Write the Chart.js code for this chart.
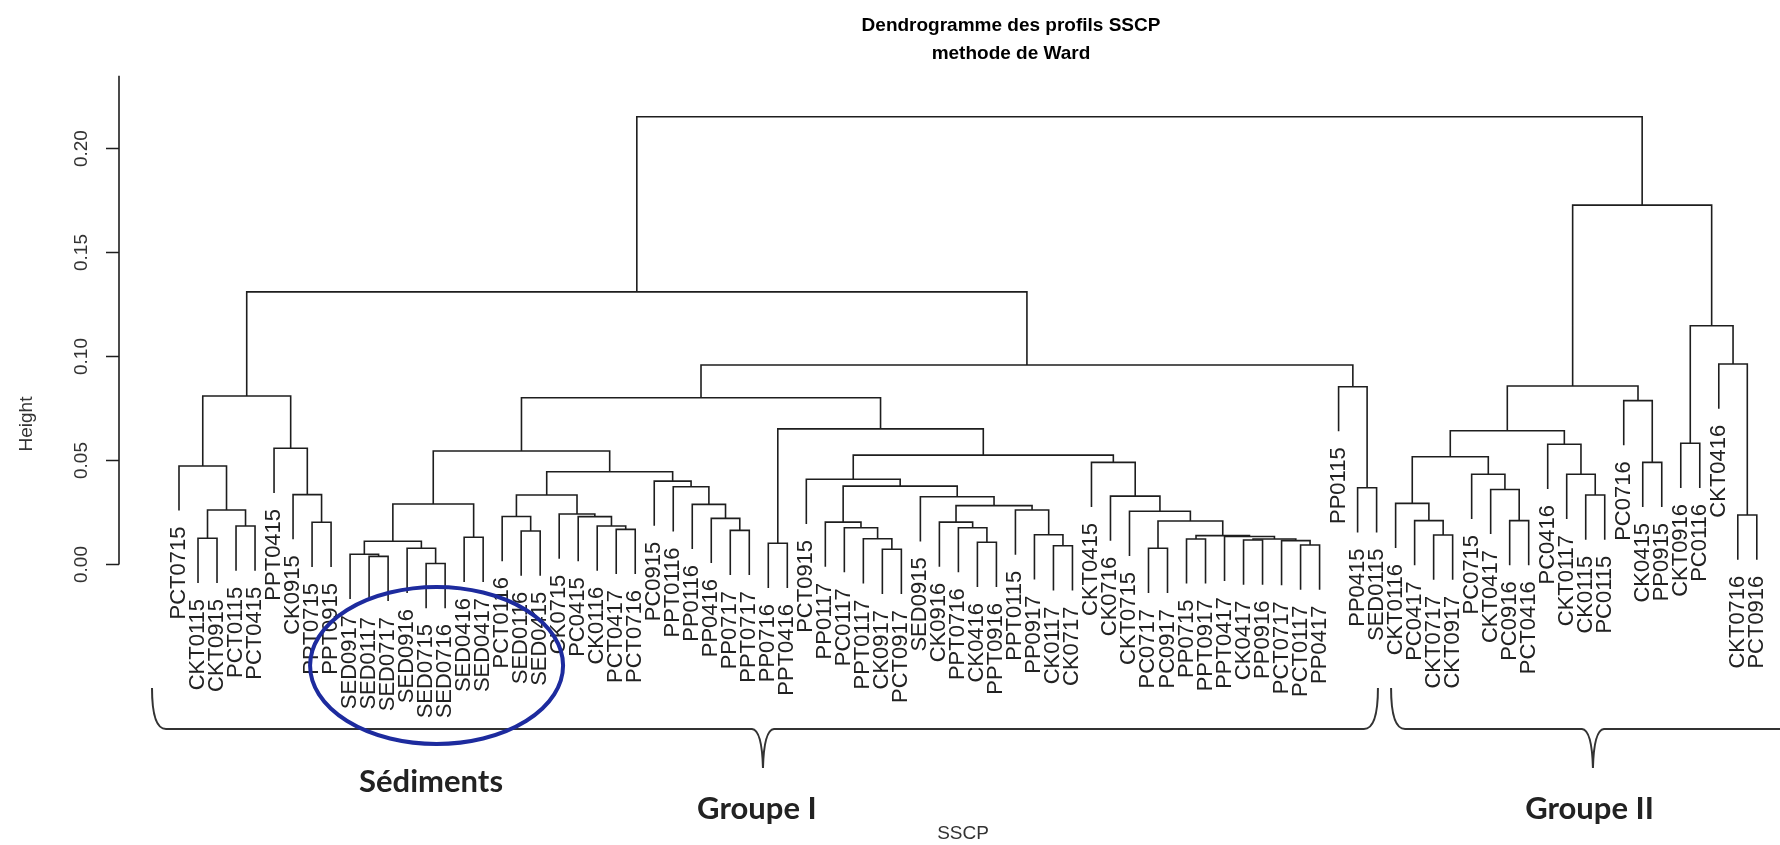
<!DOCTYPE html>
<html>
<head>
<meta charset="utf-8">
<script src="https://cdn.jsdelivr.net/npm/chart.js@4.4.0/dist/chart.umd.min.js"></script>
<style>
  body { margin: 0; background: #fff; }
  canvas { display: block; }
</style>
</head>
<body>
<canvas id="dendro" width="1780" height="845"></canvas>
<script>
// leaves, in the order the dendrogram draws them
const leafLabels = [
  'PCT0715','CKT0115','CKT0915','PCT0115','PCT0415','PPT0415','CK0915','PPT0715','PPT0915',
  'SED0917','SED0117','SED0717','SED0916','SED0715','SED0716','SED0416','SED0417',
  'PCT0116','SED0116','SED0415','CK0715','PC0415','CK0116','PCT0417','PCT0716',
  'PC0915','PPT0116','PP0116','PP0416','PP0717','PPT0717','PP0716','PPT0416',
  'PCT0915','PP0117','PC0117','PPT0117','CK0917','PCT0917','SED0915','CK0916',
  'PPT0716','CK0416','PPT0916','PPT0115','PP0917','CK0117','CK0717','CKT0415',
  'CK0716','CKT0715','PC0717','PC0917','PP0715','PPT0917','PPT0417','CK0417',
  'PP0916','PCT0717','PCT0117','PP0417','PP0115','PP0415','SED0115',
  'CKT0116','PC0417','CKT0717','CKT0917','PC0715','CKT0417','PC0916','PCT0416',
  'PC0416','CKT0117','CK0115','PC0115','PC0716','CK0415','PP0915','CKT0916',
  'PC0116','CKT0416','CKT0716','PCT0916'
];

// merge steps (hclust style): negative = leaf number (1-based), positive = earlier step
const mergeA = [
  -14,-11,-10,-13,3,-16,5,-19,-18,-24,
  -23,-22,-21,9,-30,-29,-28,-27,-26,14,
  7,-32,-38,-37,-36,-35,-43,-42,-41,-47,
  -46,-45,29,-40,26,-34,-54,-57,-60,-59,
  38,-56,37,-52,44,-51,-50,-49,36,22,
  21,-63,-62,51,-2,-4,55,-1,-8,-7,
  -6,58,62,-67,-66,-65,-71,-70,-69,66,
  -75,-74,-73,70,-78,-77,74,-80,-83,-82,
  78,77,63
];
const mergeB = [
  -15,-12,2,1,4,-17,6,-20,8,-25,
  10,11,12,13,-31,15,16,17,18,19,
  20,-33,-39,23,24,25,-44,27,28,-48,
  30,31,32,33,34,35,-55,-58,-61,39,
  40,41,42,-53,43,45,46,47,48,49,
  50,-64,52,53,-3,-5,56,57,-9,59,
  60,61,54,-68,64,65,-72,67,68,69,
  -76,71,72,73,-79,75,76,-81,-84,79,
  80,81,82
];
const mergeHeight = [
  0.0005,0.0039,0.0049,0.0078,0.0112,0.0131,0.0291,0.0161,0.0231,0.0169,
  0.0185,0.0230,0.0243,0.0334,0.0164,0.0222,0.0289,0.0374,0.0401,0.0446,
  0.0546,0.0102,0.0073,0.0124,0.0177,0.0204,0.0107,0.0177,0.0204,0.0090,
  0.0143,0.0262,0.0283,0.0326,0.0377,0.0410,0.0123,0.0118,0.0094,0.0115,
  0.0123,0.0135,0.0139,0.0078,0.0209,0.0256,0.0329,0.0491,0.0526,0.0652,
  0.0802,0.0369,0.0855,0.0959,0.0126,0.0185,0.0262,0.0474,0.0203,0.0336,
  0.0559,0.0810,0.1311,0.0142,0.0211,0.0294,0.0211,0.0361,0.0434,0.0518,
  0.0334,0.0434,0.0578,0.0643,0.0491,0.0788,0.0858,0.0583,0.0238,0.0964,
  0.1148,0.1728,0.2153
];

const yTicks = [0, 0.05, 0.10, 0.15, 0.20];
const yTickLabels = ['0.00', '0.05', '0.10', '0.15', '0.20'];

const LINE = '#1e1e1e';

// labels hang below their merge by 10% of the height range (R hang = 0.1)
const hang = 0.1 * (Math.max(...mergeHeight) - Math.min(...mergeHeight));
const nodeX = [];
const leafBottom = [];

function childPos(ref, h) {
  if (ref < 0) {
    leafBottom[-ref - 1] = h - hang;
    return { x: -ref - 1, y: h - hang };
  }
  return { x: nodeX[ref - 1], y: mergeHeight[ref - 1] };
}

const datasets = mergeA.map((a, i) => {
  const h = mergeHeight[i];
  const l = childPos(a, h);
  const r = childPos(mergeB[i], h);
  nodeX[i] = (l.x + r.x) / 2;
  return {
    data: [{ x: l.x, y: l.y }, { x: l.x, y: h }, { x: r.x, y: h }, { x: r.x, y: r.y }],
    showLine: true,
    borderColor: LINE,
    borderWidth: 1.6,
    pointRadius: 0,
    tension: 0,
    fill: false,
    clip: false
  };
});

function rotText(ctx, txt, px, py, align, off) {
  ctx.save();
  ctx.translate(px, py);
  ctx.rotate(-Math.PI / 2);
  ctx.textAlign = align;
  ctx.fillText(txt, 0, off);
  ctx.restore();
}

const decor = {
  id: 'decor',
  afterDatasetsDraw(chart) {
    const { ctx, chartArea, scales: { x, y } } = chart;
    ctx.save();
    ctx.textBaseline = 'alphabetic';

    // leaf labels
    ctx.fillStyle = '#222';
    ctx.font = '22px "Liberation Sans", Arial, sans-serif';
    leafLabels.forEach((lab, i) => {
      rotText(ctx, lab, x.getPixelForValue(i), y.getPixelForValue(leafBottom[i]) + 16, 'right', 6);
    });

    // y axis
    const ax = chartArea.left;
    ctx.strokeStyle = LINE;
    ctx.lineWidth = 1.6;
    ctx.beginPath();
    ctx.moveTo(ax, y.getPixelForValue(0));
    ctx.lineTo(ax, y.getPixelForValue(0.235));
    yTicks.forEach(t => {
      const py = y.getPixelForValue(t);
      ctx.moveTo(ax, py);
      ctx.lineTo(ax - 13, py);
    });
    ctx.stroke();
    ctx.fillStyle = '#333';
    ctx.font = '19px "Liberation Sans", Arial, sans-serif';
    yTicks.forEach((t, i) => rotText(ctx, yTickLabels[i], 87, y.getPixelForValue(t), 'center', 0));
    rotText(ctx, 'Height', 32, 424, 'center', 0);

    // titles
    ctx.fillStyle = '#000';
    ctx.textAlign = 'center';
    ctx.font = 'bold 19px "Liberation Sans", Arial, sans-serif';
    ctx.fillText('Dendrogramme des profils SSCP', 1011, 31);
    ctx.fillText('methode de Ward', 1011, 59);
    ctx.fillStyle = '#333';
    ctx.font = '19px "Liberation Sans", Arial, sans-serif';
    ctx.fillText('SSCP', 963, 839);

    // braces under the two groups
    const px = v => x.getPixelForValue(v);
    ctx.strokeStyle = '#333';
    ctx.lineWidth = 2;
    const brace = (a, c, b, openRight) => {
      const xa = px(a), xc = px(c), xb = px(b);
      ctx.beginPath();
      ctx.moveTo(xa, 688);
      ctx.quadraticCurveTo(xa, 729, xa + 14, 729);
      ctx.lineTo(xc - 11, 729);
      ctx.quadraticCurveTo(xc - 1, 730, xc, 768);
      ctx.quadraticCurveTo(xc + 1, 730, xc + 11, 729);
      if (openRight) {
        ctx.lineTo(xb, 729);
      } else {
        ctx.lineTo(xb - 14, 729);
        ctx.quadraticCurveTo(xb, 729, xb, 688);
      }
      ctx.stroke();
    };
    brace(-1.42, 30.72, 63.07, false);
    brace(63.76, 74.38, 90, true);

    // ellipse around the sediment samples
    ctx.strokeStyle = '#1d2b9e';
    ctx.lineWidth = 4;
    ctx.beginPath();
    ctx.ellipse(px(13.55), 665.5, 126.5, 78.5, 0, 0, Math.PI * 2);
    ctx.stroke();

    ctx.fillStyle = '#222';
    ctx.textAlign = 'center';
    ctx.font = 'bold 31px Lato, "Liberation Sans", sans-serif';
    ctx.fillText('Sédiments', px(13.26), 792);
    ctx.fillText('Groupe I', px(30.4), 819);
    ctx.fillText('Groupe II', px(74.2), 819);
    ctx.restore();
  }
};

new Chart(document.getElementById('dendro'), {
  type: 'scatter',
  data: { datasets },
  options: {
    responsive: false,
    animation: false,
    devicePixelRatio: 1,
    layout: { padding: { left: 119, right: 0, top: 40, bottom: 205 } },
    scales: {
      x: { type: 'linear', display: false, min: -3.156, max: 84.22 },
      y: { type: 'linear', display: false, min: -0.0363, max: 0.2522 }
    },
    plugins: {
      legend: { display: false },
      tooltip: { enabled: false }
    }
  },
  plugins: [decor]
});
</script>
</body>
</html>
